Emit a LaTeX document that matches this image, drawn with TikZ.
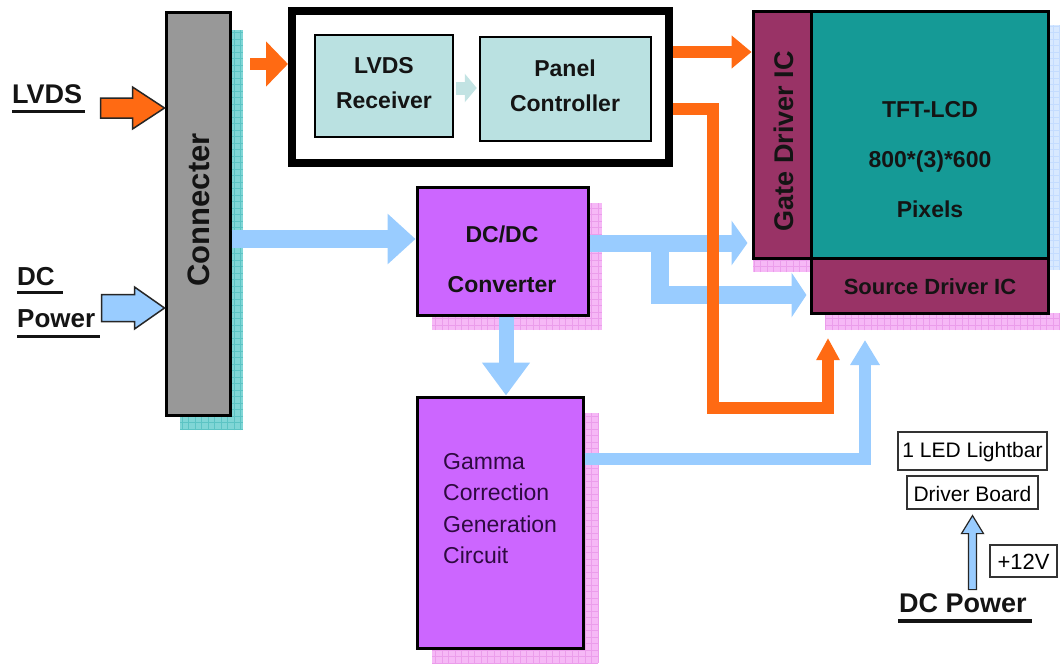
\documentclass[tikz,border=0pt]{standalone}
\usepackage{fontspec}
\setmainfont{Liberation Sans}
\usetikzlibrary{arrows.meta,calc}
\definecolor{orangeC}{HTML}{FF6A13}
\definecolor{blueC}{HTML}{99CCFF}
\definecolor{grayC}{HTML}{989898}
\definecolor{tealG}{HTML}{80D6D6}
\definecolor{tealGL}{HTML}{5CC4C4}
\definecolor{purpleC}{HTML}{CC66FF}
\definecolor{pinkG}{HTML}{F6B8F6}
\definecolor{pinkGL}{HTML}{EB9DEB}
\definecolor{lcdC}{HTML}{159A96}
\definecolor{maroonC}{HTML}{993366}
\definecolor{cyanBox}{HTML}{BAE1E1}
\definecolor{cyanArr}{HTML}{C2E3E3}
\definecolor{blueG}{HTML}{D8E9FF}
\definecolor{blueGL}{HTML}{C4DCFF}
\definecolor{inkC}{HTML}{141414}
\definecolor{gamC}{HTML}{2E0A40}
\newcommand\gshadow[4]{\fill[#1] (#3) rectangle (#4); \draw[#2, line width=0.5pt, step=6.5pt] (#3) grid (#4);}
\begin{document}
\begin{tikzpicture}[x=1pt,y=-1pt,
  box/.style={draw=black, line width=3pt, inner sep=0pt},
  thinbox/.style={draw=black!80, line width=1.2pt, inner sep=0pt},
  lbl/.style={font=\fontsize{23}{35}\selectfont\bfseries, text=inkC, align=center, inner sep=0pt},
  outarrow/.style={draw=black!85, line width=1.5pt, line join=miter},
  barrow/.style={line width=#1}
]
\useasboundingbox (0,0) rectangle (1060,664);
\fill[white] (0,0) rectangle (1060,664);

% grid shadows
\gshadow{tealG}{tealGL}{230,430}{243,30}
\gshadow{tealG}{tealGL}{180,430}{243,415}
\gshadow{blueG}{blueGL}{1048,270}{1060,25}
\gshadow{pinkG}{pinkGL}{753,272}{811,258}
\gshadow{pinkG}{pinkGL}{825,330}{1060,313}
\gshadow{pinkG}{pinkGL}{588,330}{602,203}
\gshadow{pinkG}{pinkGL}{432,330}{602,315}
\gshadow{pinkG}{pinkGL}{583,663}{598,413}
\gshadow{pinkG}{pinkGL}{432,663}{598,648}

% boxes
\node[box, fill=grayC, minimum width=64pt, minimum height=403pt] (con) at (198,213.5) {};
\node[font=\fontsize{31}{32}\selectfont\bfseries, text=inkC, rotate=90, inner sep=0pt] (conT) at (199,210) {Connecter};

\node[draw=black, line width=8pt, inner sep=0pt, minimum width=377pt, minimum height=152pt] (big) at (480.5,87) {};
\node[box, line width=2.5pt, fill=cyanBox, minimum width=138pt, minimum height=102pt] (rec) at (384,86) {};
\node[lbl] (recT) at (384,83) {LVDS\\Receiver};
\node[box, line width=2.5pt, fill=cyanBox, minimum width=171pt, minimum height=104pt] (pan) at (565.5,89) {};
\node[lbl] (panT) at (565,86) {Panel\\Controller};

\node[box, fill=maroonC, minimum width=58pt, minimum height=247pt] (gate) at (782,134.5) {};
\node[font=\fontsize{27}{28}\selectfont\bfseries, text=inkC, rotate=90, inner sep=0pt] (gateT) at (784,141) {Gate Driver IC};
\node[box, fill=lcdC, minimum width=237pt, minimum height=247pt] (tft) at (929.5,134.5) {};
\node[font=\fontsize{23}{50}\selectfont\bfseries, text=inkC, align=center, inner sep=0pt] (tftT) at (930,160) {TFT-LCD\\800*(3)*600\\Pixels};
\node[box, fill=maroonC, minimum width=237pt, minimum height=55pt] (src) at (929.5,285.5) {};
\node[font=\fontsize{22}{24}\selectfont\bfseries, text=inkC, inner sep=0pt] (srcT) at (930,287) {Source Driver IC};

\node[box, fill=purpleC, minimum width=171pt, minimum height=128pt] (dcdc) at (502.5,251) {};
\node[font=\fontsize{23}{50}\selectfont\bfseries, text=inkC, align=center, inner sep=0pt] (dcdcT) at (502,259) {DC/DC\\Converter};

\node[box, fill=purpleC, minimum width=166pt, minimum height=251pt] (gam) at (500,522.5) {};
\node[font=\fontsize{23}{31.5}\selectfont, text=gamC, align=left, inner sep=0pt, anchor=north west] (gamT) at (443,453) {Gamma\\Correction\\Generation\\Circuit};

\node[thinbox, minimum width=149pt, minimum height=38pt] (led) at (972.5,451) {};
\node[font=\fontsize{21}{22}\selectfont, inner sep=0pt] (ledT) at (972.5,452) {1 LED Lightbar};
\node[thinbox, minimum width=131pt, minimum height=33pt] (drv) at (972.5,492.5) {};
\node[font=\fontsize{21}{22}\selectfont, inner sep=0pt] (drvT) at (972.5,493.5) {Driver Board};
\node[thinbox, minimum width=67pt, minimum height=32pt] (v12) at (1023.5,561) {};
\node[font=\fontsize{22}{23}\selectfont, inner sep=0pt] (v12T) at (1023.5,562) {+12V};

% labels
\node[font=\fontsize{27}{28}\selectfont\bfseries, text=inkC, inner sep=0pt, anchor=base west] (lvds) at (12,103) {LVDS};
\draw[line width=3pt, inkC] (12,111.5) -- (85,111.5);
\node[font=\fontsize{26}{27}\selectfont\bfseries, text=inkC, inner sep=0pt, anchor=base west] (dcL) at (17,285) {DC};
\draw[line width=3pt, inkC] (17,292) -- (63,292);
\node[font=\fontsize{26}{27}\selectfont\bfseries, text=inkC, inner sep=0pt, anchor=base west] (pwL) at (17,327) {Power};
\draw[line width=3pt, inkC] (17,336.5) -- (100,336.5);
\node[font=\fontsize{27}{28}\selectfont\bfseries, text=inkC, inner sep=0pt, anchor=base west] (dcp) at (899,612) {DC Power};
\draw[line width=3.5pt, inkC] (898,621) -- (1032,621);

% outlined block arrows
\draw[outarrow, fill=orangeC] (con.west |- 0,108) -- ++(-32,-21) -- ++(0,11) -- ++(-32,0) -- ++(0,20) -- ++(32,0) -- ++(0,11) -- cycle;
\draw[outarrow, fill=blueC] (con.west |- 0,308) -- ++(-30,-21) -- ++(0,7.5) -- ++(-33,0) -- ++(0,27) -- ++(33,0) -- ++(0,7.5) -- cycle;
\coordinate (ledTip) at ([yshift=-6pt]drv.south);
\draw[outarrow, line width=1.2pt, fill=blueC] (ledTip) -- ++(11,18) -- ++(-7,0) -- ++(0,56) -- ++(-8,0) -- ++(0,-56) -- ++(-7,0) -- cycle;

% blue connectors
\draw[blueC, barrow=18pt, -{Triangle[length=28pt,width=49pt]}] (con.east |- 0,239) -- (dcdc.west |- 0,239);
\draw[cyanArr, barrow=13pt, -{Triangle[length=12pt,width=28pt]}] ([xshift=2pt]rec.east |- 0,88) -- ([xshift=-2pt]pan.west |- 0,88);
\draw[blueC, barrow=17pt, -{Triangle[length=16pt,width=44pt]}] (dcdc.east |- 0,243) -- ([xshift=-4pt]gate.west |- 0,243);
\draw[blueC, barrow=18pt, line join=miter, -{Triangle[length=15pt,width=44pt]}] (660,235) -- (660,295) -- ([xshift=-3pt]src.west |- 0,295);
\draw[blueC, barrow=15pt, -{Triangle[length=33pt,width=46pt]}] (dcdc.south -| 506,0) -- (gam.north -| 506,0);
\coordinate (gTip) at (865,340);
\draw[blueC, barrow=12pt, line join=miter, -{Triangle[length=25pt,width=28pt]}] (gam.east |- 0,459) -| (gTip);

% orange connectors
\draw[orangeC, barrow=12pt, -{Triangle[length=22pt,width=44pt]}] (250,64) -- (big.west |- 0,64);
\draw[orangeC, barrow=12pt, -{Triangle[length=20pt,width=32pt]}] (big.east |- 0,52) -- (gate.west |- 0,52);
\coordinate (oTip) at (828,338);
\draw[orangeC, barrow=12pt, line join=miter, -{Triangle[length=22pt,width=22pt]}] (big.east |- 0,109) -- (713,109) -- (713,408) -| (oTip);
\end{tikzpicture}
\end{document}
